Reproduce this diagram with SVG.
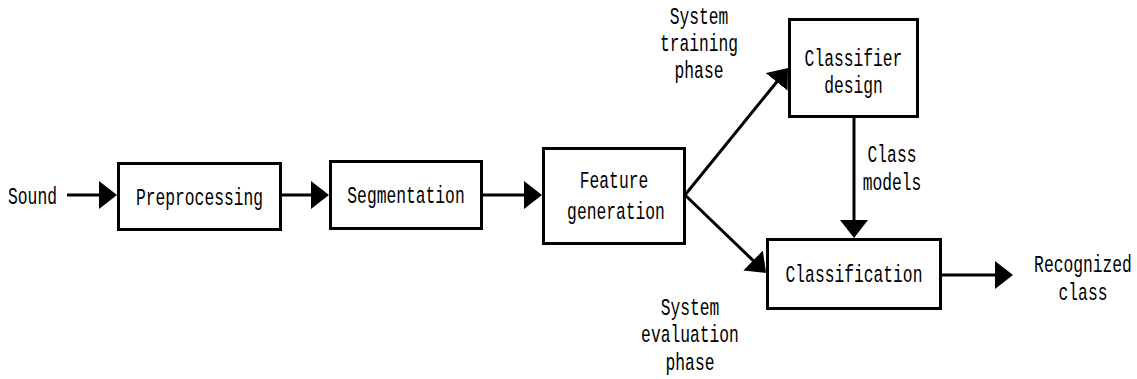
<svg xmlns="http://www.w3.org/2000/svg" width="1137" height="379" viewBox="0 0 1137 379">
<style>
.box{fill:#fff;stroke:#000;stroke-width:3}
.ln{fill:none;stroke:#000;stroke-width:3}
text{font-family:"Liberation Mono","Courier New",monospace;font-size:16.3px;fill:#000;text-anchor:middle}
</style>
<defs>
<marker id="ah" markerUnits="userSpaceOnUse" markerWidth="18" markerHeight="28" refX="10" refY="14" orient="auto">
<path d="M0,0 L18,14 L0,28 z" fill="#000"/>
</marker>
</defs>
<rect width="1137" height="379" fill="#fff"/>
<g id="connectors">
<line class="ln" x1="67" y1="195" x2="109" y2="195" marker-end="url(#ah)"/>
<line class="ln" x1="282" y1="195" x2="321" y2="195" marker-end="url(#ah)"/>
<line class="ln" x1="483" y1="195" x2="534" y2="195" marker-end="url(#ah)"/>
<line class="ln" x1="685" y1="195" x2="783" y2="74.2" marker-end="url(#ah)"/>
<line class="ln" x1="685" y1="195" x2="760.3" y2="267.4" marker-end="url(#ah)"/>
<line class="ln" x1="854" y1="118" x2="854" y2="230" marker-end="url(#ah)"/>
<line class="ln" x1="942" y1="275" x2="1005" y2="275" marker-end="url(#ah)"/>
</g>
<g id="sound"><text transform="translate(32.5,204) scale(1,1.5)">Sound</text></g>
<g id="preprocessing">
<rect class="box" x="118.5" y="163.5" width="162" height="66"/>
<text transform="translate(199.5,205) scale(1,1.5)">Preprocessing</text>
</g>
<g id="segmentation">
<rect class="box" x="330.5" y="161.5" width="151" height="67"/>
<text transform="translate(406,203) scale(1,1.5)">Segmentation</text>
</g>
<g id="feature">
<rect class="box" x="543.5" y="148.5" width="141" height="95"/>
<text transform="translate(614,188) scale(1,1.5)">Feature</text>
<text transform="translate(616,219) scale(1,1.5)">generation</text>
</g>
<g id="classifier-design">
<rect class="box" x="789.5" y="19.5" width="128" height="97"/>
<text transform="translate(853.5,66) scale(1,1.5)">Classifier</text>
<text transform="translate(853.5,93) scale(1,1.5)">design</text>
</g>
<g id="classification">
<rect class="box" x="767.5" y="239.5" width="173" height="69"/>
<text transform="translate(854,282) scale(1,1.5)">Classification</text>
</g>
<g id="label-training">
<text transform="translate(699,24) scale(1,1.5)">System</text>
<text transform="translate(699,51) scale(1,1.5)">training</text>
<text transform="translate(699,78) scale(1,1.5)">phase</text>
</g>
<g id="label-models">
<text transform="translate(892,162) scale(1,1.5)">Class</text>
<text transform="translate(892,190) scale(1,1.5)">models</text>
</g>
<g id="label-evaluation">
<text transform="translate(690,315) scale(1,1.5)">System</text>
<text transform="translate(690,342) scale(1,1.5)">evaluation</text>
<text transform="translate(690,370) scale(1,1.5)">phase</text>
</g>
<g id="recognized">
<text transform="translate(1083,272) scale(1,1.5)">Recognized</text>
<text transform="translate(1083,300) scale(1,1.5)">class</text>
</g>
</svg>
